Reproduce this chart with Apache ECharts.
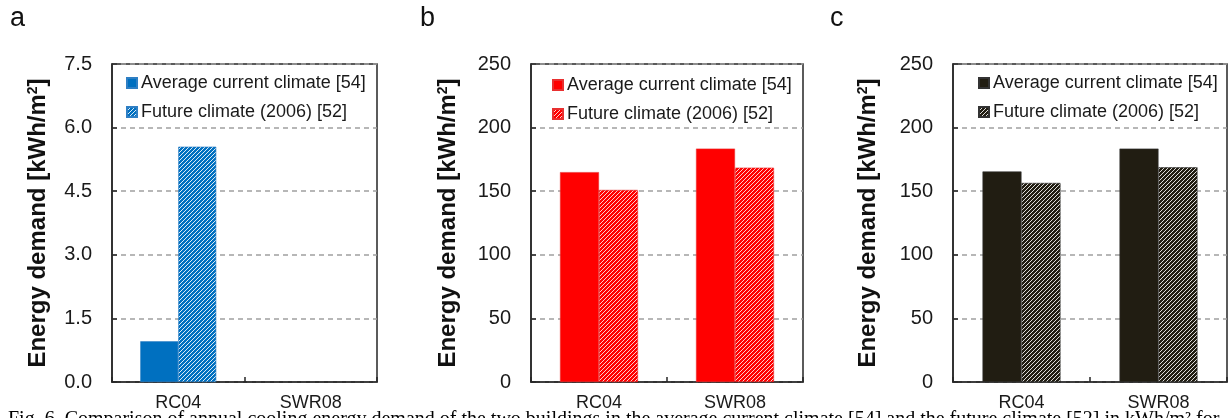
<!DOCTYPE html>
<html>
<head>
<meta charset="utf-8">
<script src="https://cdn.jsdelivr.net/npm/echarts@6/dist/echarts.min.js"></script>
<style>
html,body{margin:0;padding:0;background:#fff;}
#chart{width:1231px;height:418px;}
</style>
</head>
<body>
<div id="chart"></div>
<script>
// ---- data ----
const categories = ['RC04', 'SWR08'];
const legendLabels = ['Average current climate [54]', 'Future climate (2006) [52]'];
const panelLetters = ['a', 'b', 'c'];
const aCurrent = [0.96, null];
const aFuture = [5.55, null];
const bCurrent = [165, 183.5];
const bFuture = [151, 168.5];
const cCurrent = [165.5, 183.5];
const cFuture = [156.5, 168.8];
const aTicks = { min: 0, max: 7.5, interval: 1.5, decimals: 1 };
const bTicks = { min: 0, max: 250, interval: 50, decimals: 0 };
const cTicks = { min: 0, max: 250, interval: 50, decimals: 0 };
const yTitle = 'Energy demand [kWh/m{sup|2}]';
const caption = 'Fig. 6. Comparison of annual cooling energy demand of the two buildings in the average current climate [54] and the future climate [52] in kWh/m\u00B2 for';

// ---- styling helpers ----
function hatch(base, line) {
  const c = document.createElement('canvas');
  c.width = 4; c.height = 4;
  const g = c.getContext('2d');
  g.fillStyle = base; g.fillRect(0, 0, 4, 4);
  g.strokeStyle = line; g.lineWidth = 1;
  g.beginPath();
  g.moveTo(-1, 1); g.lineTo(1, -1);
  g.moveTo(0, 4); g.lineTo(4, 0);
  g.moveTo(3, 5); g.lineTo(5, 3);
  g.stroke();
  return { image: c, repeat: 'repeat' };
}

const panels = [
  { cur: aCurrent, fut: aFuture, ticks: aTicks, solid: '#0070C0', hatchC: hatch('#0070C0', 'rgba(255,255,255,0.85)'), border: '#2f7fc4',
    grid: { left: 112, right: 854, top: 64, bottom: 36 }, nameGap: 62, legend: { left: 121, top: 69 }, letterX: 10, barW: 38 },
  { cur: bCurrent, fut: bFuture, ticks: bTicks, solid: '#FF0000', hatchC: hatch('#FF0000', 'rgba(255,255,255,0.8)'), border: '#e83030',
    grid: { left: 531, right: 428, top: 64, bottom: 36 }, nameGap: 71, legend: { left: 547, top: 71 }, letterX: 420, barW: 39 },
  { cur: cCurrent, fut: cFuture, ticks: cTicks, solid: '#211D12', hatchC: hatch('#211D12', 'rgba(255,255,255,0.85)'), border: '#333',
    grid: { left: 953, right: 4, top: 64, bottom: 36 }, nameGap: 73, legend: { left: 973, top: 69 }, letterX: 830, barW: 39 }
];

const grids = [], xAxes = [], yAxes = [], series = [], legends = [], graphics = [];
panels.forEach((p, i) => {
  grids.push(Object.assign({ show: true, borderColor: '#262626', borderWidth: 1.5, backgroundColor: 'transparent' }, p.grid));
  xAxes.push({
    type: 'category', gridIndex: i, data: categories,
    axisLine: { show: true, lineStyle: { color: '#262626', width: 1.5 } },
    axisTick: { show: true, inside: true, length: 5, lineStyle: { color: '#262626', width: 1.5 } },
    axisLabel: { color: '#1a1a1a', fontSize: 18, fontFamily: 'Liberation Sans, Arial, sans-serif', margin: 12 },
    splitLine: { show: false }
  });
  yAxes.push({
    type: 'value', gridIndex: i, min: p.ticks.min, max: p.ticks.max, interval: p.ticks.interval,
    name: yTitle, nameLocation: 'middle', nameRotate: 90, nameGap: p.nameGap,
    nameTextStyle: {
      color: '#111', fontSize: 24, fontWeight: 'bold', fontFamily: 'Liberation Sans, Arial, sans-serif',
      rich: { sup: { fontSize: 14, fontWeight: 'bold', color: '#111', fontFamily: 'Liberation Sans, Arial, sans-serif', padding: [0, 0, 10, 0] } }
    },
    axisLine: { show: true, lineStyle: { color: '#262626', width: 1.5 } },
    axisTick: { show: true, inside: true, length: 5, lineStyle: { color: '#262626', width: 1.5 } },
    axisLabel: {
      color: '#1a1a1a', fontSize: 20, fontFamily: 'Liberation Sans, Arial, sans-serif', margin: 20,
      formatter: v => v.toFixed(p.ticks.decimals)
    },
    splitLine: { show: true, lineStyle: { color: '#a0a0a0', width: 1.5, type: [5, 4] } }
  });
  const n1 = 'cur' + i, n2 = 'fut' + i;
  series.push({
    name: n1, type: 'bar', xAxisIndex: i, yAxisIndex: i, data: p.cur, barWidth: p.barW, barGap: '0%',
    itemStyle: { color: p.solid, borderColor: p.border, borderWidth: 0.6 }
  });
  series.push({
    name: n2, type: 'bar', xAxisIndex: i, yAxisIndex: i, data: p.fut, barWidth: p.barW, barGap: '0%',
    itemStyle: { color: p.hatchC, borderColor: p.border, borderWidth: 0.6 }
  });
  legends.push({
    data: [n1, n2], orient: 'vertical', left: p.legend.left, top: p.legend.top,
    itemWidth: 10, itemHeight: 10, itemGap: 11, icon: 'rect',
    selectedMode: false,
    textStyle: { color: '#1a1a1a', fontSize: 18, fontFamily: 'Liberation Sans, Arial, sans-serif', padding: [0, 0, 0, -1] },
    formatter: name => legendLabels[name.startsWith('cur') ? 0 : 1]
  });
  graphics.push({
    type: 'text', left: p.letterX, top: 5,
    style: { text: panelLetters[i], fontSize: 27, fill: '#111', fontFamily: 'Liberation Sans, Arial, sans-serif' }
  });
});
graphics.push({
  type: 'text', left: 8, top: 410,
  style: { text: caption, fontSize: 20, fill: '#000', fontFamily: 'Liberation Serif, Times New Roman, serif' }
});

const chart = echarts.init(document.getElementById('chart'), null, { renderer: 'canvas' });
chart.setOption({
  animation: false,
  backgroundColor: '#fff',
  grid: grids, xAxis: xAxes, yAxis: yAxes, series: series, legend: legends, graphic: graphics
});
</script>
</body>
</html>
